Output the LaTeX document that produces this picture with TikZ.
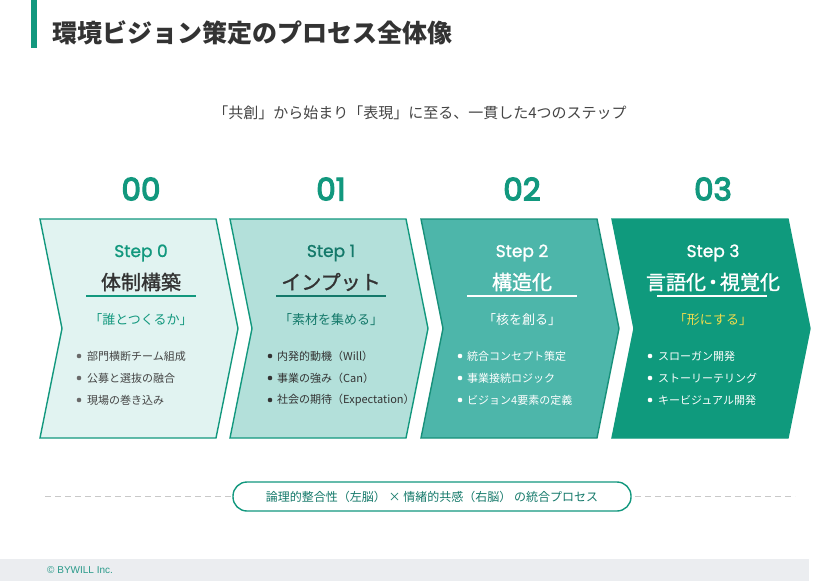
\documentclass[tikz,border=0pt]{standalone}
\usepackage{fontspec}
\setmainfont{Noto Sans CJK JP}
\newfontfamily\pop{Poppins}[FakeBold=1.2]
\newfontfamily\popnum{Poppins}[FakeBold=4]
\newfontfamily\cjkmed{Noto Sans CJK JP}[FakeBold=1.3]
\newfontfamily\arial{Liberation Sans}
\definecolor{accent}{HTML}{12987E}
\definecolor{titlegray}{HTML}{333333}
\definecolor{subgray}{HTML}{444444}
\definecolor{fillA}{HTML}{E1F3F1}
\definecolor{fillB}{HTML}{B3E0DA}
\definecolor{fillC}{HTML}{4DB6AA}
\definecolor{fillD}{HTML}{0F9A7D}
\definecolor{darkteal}{HTML}{14796A}
\definecolor{borderC}{HTML}{17907A}
\definecolor{yel}{HTML}{F0DC4C}
\definecolor{dashgray}{HTML}{C8C8C8}
\definecolor{footgray}{HTML}{EBEDF0}
\definecolor{footteal}{HTML}{2A9A8A}
\newcommand\chevpath[1]{(#1,219) -- ++(176,0) -- ++(22,109.5) -- ++(-22,109.5) -- ++(-176,0) -- ++(22,-109.5) -- cycle}
\tikzset{
  numst/.style={font=\popnum\fontsize{31}{34}\selectfont, text=accent, inner sep=0pt},
  stepst/.style={font=\pop\fontsize{17}{20}\selectfont, inner sep=0pt},
  ttlst/.style={font=\cjkmed\fontsize{20}{22}\selectfont, inner sep=0pt},
  subst/.style={font=\fontsize{13}{15}\selectfont, inner sep=0pt},
  bulst/.style={font=\fontsize{11}{13}\selectfont, inner sep=0pt, anchor=west},
  dotst/.style={circle, inner sep=0pt, minimum size=4.6pt},
}
\begin{document}
\begin{tikzpicture}[x=1pt,y=-1pt]
\useasboundingbox (0,0) rectangle (840,581);
\fill[white] (0,0) rectangle (840,581);
% header
\fill[accent] (31,0) rectangle (37,48);
\node[anchor=west, inner sep=0pt, font=\fontsize{25}{30}\selectfont\bfseries, text=titlegray] (title) at (52,33) {環境ビジョン策定のプロセス全体像};
\node[inner sep=0pt, font=\fontsize{15}{18}\selectfont, text=subgray] (lead) at (420,113) {「共創」から始まり「表現」に至る、一貫した4つのステップ};
% chevrons
\draw[fill=fillA, draw=accent, line width=1.4pt, line join=miter] \chevpath{40};
\draw[fill=fillB, draw=accent, line width=1.4pt, line join=miter] \chevpath{230};
\draw[fill=fillC, draw=borderC, line width=1.4pt, line join=miter] \chevpath{421};
\draw[fill=fillD, draw=fillD, line width=1.4pt, line join=miter] \chevpath{612};
% numbers
\node[numst] (n0) at (141,189) {00};
\node[numst] (n1) at (331,189) {01};
\node[numst] (n2) at (522,189) {02};
\node[numst] (n3) at (713,189) {03};
% step 0
\node[stepst, text=accent] (s0) at (141,253) {Step 0};
\node[ttlst, text=titlegray] (t0) at (141,282) {体制構築};
\draw[accent, line width=1.5pt] (86,296) -- (196,296);
\node[subst, text=accent] (u0) at (141,320) {「誰とつくるか」};
\node[dotst, fill=subgray!80] (d01) at (79,356) {};
\node[dotst, fill=subgray!80] (d02) at (79,378) {};
\node[dotst, fill=subgray!80] (d03) at (79,400) {};
\node[bulst, text=subgray] (b01) at (87,356) {部門横断チーム組成};
\node[bulst, text=subgray] (b02) at (87,378) {公募と選抜の融合};
\node[bulst, text=subgray] (b03) at (87,400) {現場の巻き込み};
% step 1
\node[stepst, text=darkteal] (s1) at (331,253) {Step 1};
\node[ttlst, text=titlegray] (t1) at (331,282) {インプット};
\draw[darkteal, line width=1.5pt] (276,296) -- (386,296);
\node[subst, text=darkteal] (u1) at (331,320) {「素材を集める」};
\node[dotst, fill=titlegray] (d11) at (270,356) {};
\node[dotst, fill=titlegray] (d12) at (270,378) {};
\node[dotst, fill=titlegray] (d13) at (270,400) {};
\node[bulst, text=titlegray] (b11) at (277,356) {内発的動機（Will）};
\node[bulst, text=titlegray] (b12) at (277,378) {事業の強み（Can）};
\node[bulst, text=titlegray] (b13) at (277,400) {社会の期待（Expectation）};
% step 2
\node[stepst, text=white] (s2) at (522,253) {Step 2};
\node[ttlst, text=white] (t2) at (522,282) {構造化};
\draw[white, line width=1.5pt] (467,296) -- (577,296);
\node[subst, text=white] (u2) at (522,320) {「核を創る」};
\node[dotst, fill=white] (d21) at (460,356) {};
\node[dotst, fill=white] (d22) at (460,378) {};
\node[dotst, fill=white] (d23) at (460,400) {};
\node[bulst, text=white] (b21) at (467,356) {統合コンセプト策定};
\node[bulst, text=white] (b22) at (467,378) {事業接続ロジック};
\node[bulst, text=white] (b23) at (467,400) {ビジョン4要素の定義};
% step 3
\node[stepst, text=white] (s3) at (713,253) {Step 3};
\node[ttlst, text=white] (t3) at (713,282) {言語化{\kern-3pt}・{\kern-3pt}視覚化};
\draw[white, line width=1.5pt] (657,296) -- (767,296);
\node[subst, text=yel] (u3) at (713,320) {「形にする」};
\node[dotst, fill=white] (d31) at (650,356) {};
\node[dotst, fill=white] (d32) at (650,378) {};
\node[dotst, fill=white] (d33) at (650,400) {};
\node[bulst, text=white] (b31) at (658,356) {スローガン開発};
\node[bulst, text=white] (b32) at (658,378) {ストーリーテリング};
\node[bulst, text=white] (b33) at (658,400) {キービジュアル開発};
% bottom band
\coordinate (dl) at (45,496.5);
\coordinate (dr) at (795,496.5);
\draw[dashgray, line width=1pt, dash pattern=on 6pt off 4pt] (dl) -- (dr);
\node[draw=accent, line width=1.4pt, fill=white, rounded corners=14pt, minimum width=398pt, minimum height=29pt, inner sep=0pt, font=\fontsize{12}{14}\selectfont, text=darkteal] (pill) at (432,496.5) {論理的整合性（左脳） × 情緒的共感（右脳） の統合プロセス};
% footer
\fill[footgray] (0,559) rectangle (809,581);
\node[anchor=west, inner sep=0pt, font=\arial\fontsize{10}{12}\selectfont, text=footteal] (copy) at (47,570) {© BYWILL Inc.};
\end{tikzpicture}
\end{document}
